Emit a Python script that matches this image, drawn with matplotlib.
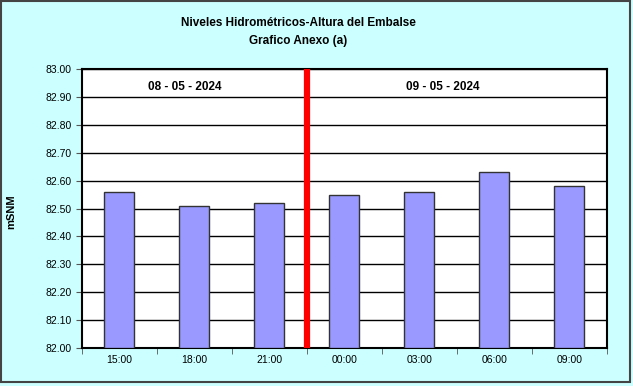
import numpy as np
import matplotlib.pyplot as plt
from matplotlib.patches import Rectangle

# Datos
horas = ["15:00", "18:00", "21:00", "00:00", "03:00", "06:00", "09:00"]
niveles = [82.56, 82.51, 82.52, 82.55, 82.56, 82.63, 82.58]
fechas = ["08 - 05 - 2024", "09 - 05 - 2024"]
fecha_pos = [0.87, 4.31]
corte = 2.5  # cambio de dia

plt.rcParams["font.family"] = ["Liberation Sans", "DejaVu Sans"]

fig = plt.figure(figsize=(6.33, 3.86), dpi=100)
fig.patch.set_facecolor("#CCFFFF")
ax = fig.add_axes([0.1295, 0.0984, 0.8294, 0.7228])

x = np.arange(len(horas))
ax.bar(x, [v - 82.0 for v in niveles], bottom=82.0, width=0.4,
       color="#9999FF", edgecolor="#333333", linewidth=1, zorder=3)

ax.set_xlim(-0.5, len(horas) - 0.5)
ax.set_ylim(82.0, 83.0)
ax.set_yticks(np.arange(82.0, 83.001, 0.1))
ax.set_yticklabels([f"{v:.2f}" for v in np.arange(82.0, 83.001, 0.1)], fontsize=7.5)
ax.set_xticks(x)
ax.set_xticklabels(horas, fontsize=7.5)
ax.set_xticks(np.arange(-0.5, len(horas), 1), minor=True)
ax.tick_params(axis="x", which="major", length=0, pad=5)
ax.tick_params(axis="x", which="minor", length=4, direction="out", color="#555555")
ax.tick_params(axis="y", length=4, direction="out", color="#555555")
ax.yaxis.grid(True, color="black", linewidth=1, zorder=1)
ax.set_axisbelow(True)
for s in ax.spines.values():
    s.set_linewidth(1.5)
    s.set_color("black")

ax.axvline(corte, color="red", linewidth=4.5, zorder=4)
for f, p in zip(fechas, fecha_pos):
    ax.text(p, 82.935, f, ha="center", va="center", fontsize=8.5, fontweight="bold")

fig.text(0.017, 0.452, "mSNM", rotation=90, ha="center", va="center",
         fontsize=8, fontweight="bold")
fig.text(0.471, 0.94, "Niveles Hidrométricos-Altura del Embalse", ha="center",
         va="center", fontsize=8.5, fontweight="bold")
fig.text(0.471, 0.894, "Grafico Anexo (a)", ha="center", va="center",
         fontsize=8.5, fontweight="bold")

# marco del grafico
fig.patches.append(Rectangle((0.002, 0.01), 0.993, 0.987, transform=fig.transFigure,
                             fill=False, edgecolor="#444444", linewidth=1.5))

fig.savefig("out.png", dpi=100, facecolor=fig.get_facecolor())
